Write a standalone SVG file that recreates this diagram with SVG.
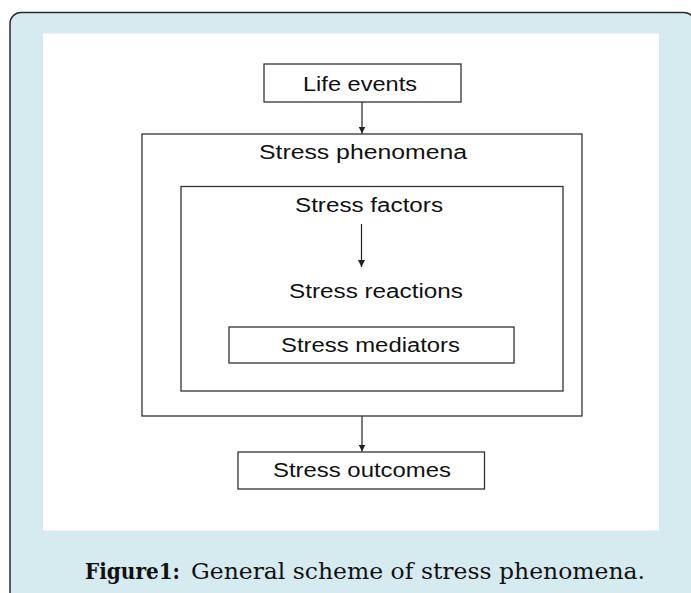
<svg xmlns="http://www.w3.org/2000/svg" width="691" height="593" viewBox="0 0 691 593">
<style>
.box{fill:#fff;stroke:#333;stroke-width:1.3}
.lbl{font-family:"Liberation Sans",Arial,sans-serif;font-size:20px;fill:#111}
.conn{stroke:#222;stroke-width:1.2;fill:none;marker-end:url(#ah)}
.cap{font-family:"DejaVu Serif","Liberation Serif",serif;font-size:22px;fill:#111}
</style>
<defs>
<marker id="ah" markerWidth="8" markerHeight="9" refX="7" refY="4" orient="auto" markerUnits="userSpaceOnUse">
<path d="M0,0.5 L7,4 L0,7.5 Z" fill="#222"/>
</marker>
</defs>
<g id="frame">
<rect x="10" y="12.5" width="685" height="600" rx="11" ry="11" fill="#d6ebf0" stroke="#2a2a2a" stroke-width="1.5"/>
<rect x="43" y="33.5" width="616" height="497" fill="#fff"/>
</g>
<g id="stress-phenomena">
<rect class="box" x="142" y="134" width="440" height="282"/>
<text class="lbl" x="259" y="158.5" textLength="208" lengthAdjust="spacingAndGlyphs">Stress phenomena</text>
</g>
<g id="inner">
<rect class="box" x="181" y="186.5" width="382" height="204.5"/>
</g>
<g id="stress-factors">
<text class="lbl" x="295" y="212" textLength="148" lengthAdjust="spacingAndGlyphs">Stress factors</text>
</g>
<g id="stress-reactions">
<text class="lbl" x="289" y="297.5" textLength="174" lengthAdjust="spacingAndGlyphs">Stress reactions</text>
</g>
<g id="stress-mediators">
<rect class="box" x="229" y="327" width="285" height="36"/>
<text class="lbl" x="281" y="352" textLength="179" lengthAdjust="spacingAndGlyphs">Stress mediators</text>
</g>
<g id="life-events">
<rect class="box" x="264" y="64" width="197" height="38"/>
<text class="lbl" x="303" y="90.5" textLength="114" lengthAdjust="spacingAndGlyphs">Life events</text>
</g>
<g id="stress-outcomes">
<rect class="box" x="238" y="452" width="246.5" height="37"/>
<text class="lbl" x="273" y="477" textLength="178" lengthAdjust="spacingAndGlyphs">Stress outcomes</text>
</g>
<g id="connectors">
<line class="conn" x1="362" y1="102" x2="362" y2="133.5"/>
<line class="conn" x1="361.5" y1="224" x2="361.5" y2="267"/>
<line class="conn" x1="362" y1="416" x2="362" y2="451.5"/>
</g>
<g id="caption">
<text class="cap" x="85" y="579" font-weight="bold" textLength="95" lengthAdjust="spacingAndGlyphs">Figure1:</text>
<text class="cap" x="191" y="579" textLength="454" lengthAdjust="spacingAndGlyphs">General scheme of stress phenomena.</text>
</g>
</svg>
